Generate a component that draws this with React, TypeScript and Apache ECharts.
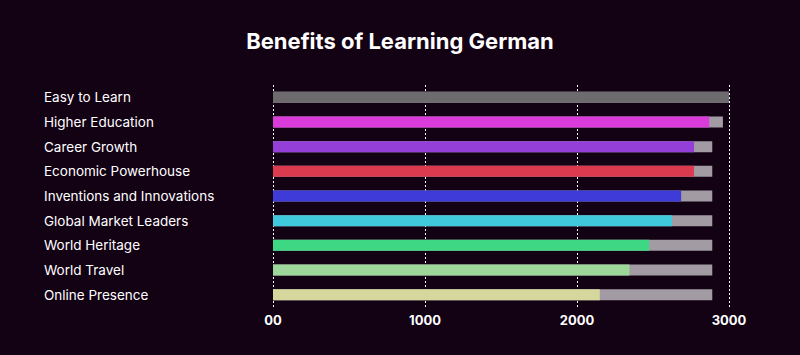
import React, { useEffect, useRef } from "react";
import * as echarts from "echarts";

const categories = [
  "Easy to Learn",
  "Higher Education",
  "Career Growth",
  "Economic Powerhouse",
  "Inventions and Innovations",
  "Global Market Leaders",
  "World Heritage",
  "World Travel",
  "Online Presence",
];
const values = [3000, 2870, 2770, 2770, 2685, 2625, 2475, 2345, 2150];
const trackValues = [3000, 2960, 2890, 2890, 2890, 2890, 2890, 2890, 2890];
const barColors = [
  "#6e6b6e",
  "#db3bdb",
  "#9440d8",
  "#dc3a4f",
  "#3f3bd8",
  "#40c8dc",
  "#3ed884",
  "#9dd89a",
  "#d5d79c",
];
const tickLabels: Record<number, string> = { 0: "00", 1000: "1000", 2000: "2000", 3000: "3000" };

export default function App() {
  const ref = useRef<HTMLDivElement>(null);
  useEffect(() => {
    document.body.style.margin = "0";
    if (!ref.current) return;
    const chart = echarts.init(ref.current, undefined, { renderer: "svg" });
    chart.setOption({
      animation: false,
      backgroundColor: "#130114",
      title: {
        text: "Benefits of Learning German",
        left: "center",
        top: 25,
        textStyle: { color: "#ffffff", fontSize: 22, fontWeight: 700, fontFamily: "Inter" },
      },
      grid: { left: 273, right: 71, top: 85, bottom: 48 },
      xAxis: {
        type: "value",
        min: 0,
        max: 3000,
        interval: 1000,
        axisLine: { show: false },
        axisTick: { show: false },
        splitLine: { show: true, lineStyle: { color: "#ffffff", type: [2, 2], width: 1 } },
        axisLabel: {
          color: "#ffffff",
          fontSize: 13,
          fontWeight: 700,
          fontFamily: "Inter",
          margin: 6,
          formatter: (v: number) => tickLabels[v] ?? String(v),
        },
      },
      yAxis: {
        type: "category",
        data: categories,
        inverse: true,
        axisLine: { show: false },
        axisTick: { show: false },
        splitLine: { show: false },
        axisLabel: {
          color: "#ffffff",
          fontSize: 13.5,
          fontFamily: "Inter",
          align: "left",
          margin: 229,
        },
      },
      series: [
        {
          type: "bar",
          data: trackValues,
          barWidth: 11,
          barGap: "-100%",
          itemStyle: { color: "#a39ba3" },
          silent: true,
        },
        {
          type: "bar",
          data: values.map((v, i) => ({ value: v, itemStyle: { color: barColors[i] } })),
          barWidth: 11,
          barGap: "-100%",
        },
      ],
    });
    return () => chart.dispose();
  }, []);
  return <div ref={ref} style={{ width: 800, height: 355 }} />;
}
